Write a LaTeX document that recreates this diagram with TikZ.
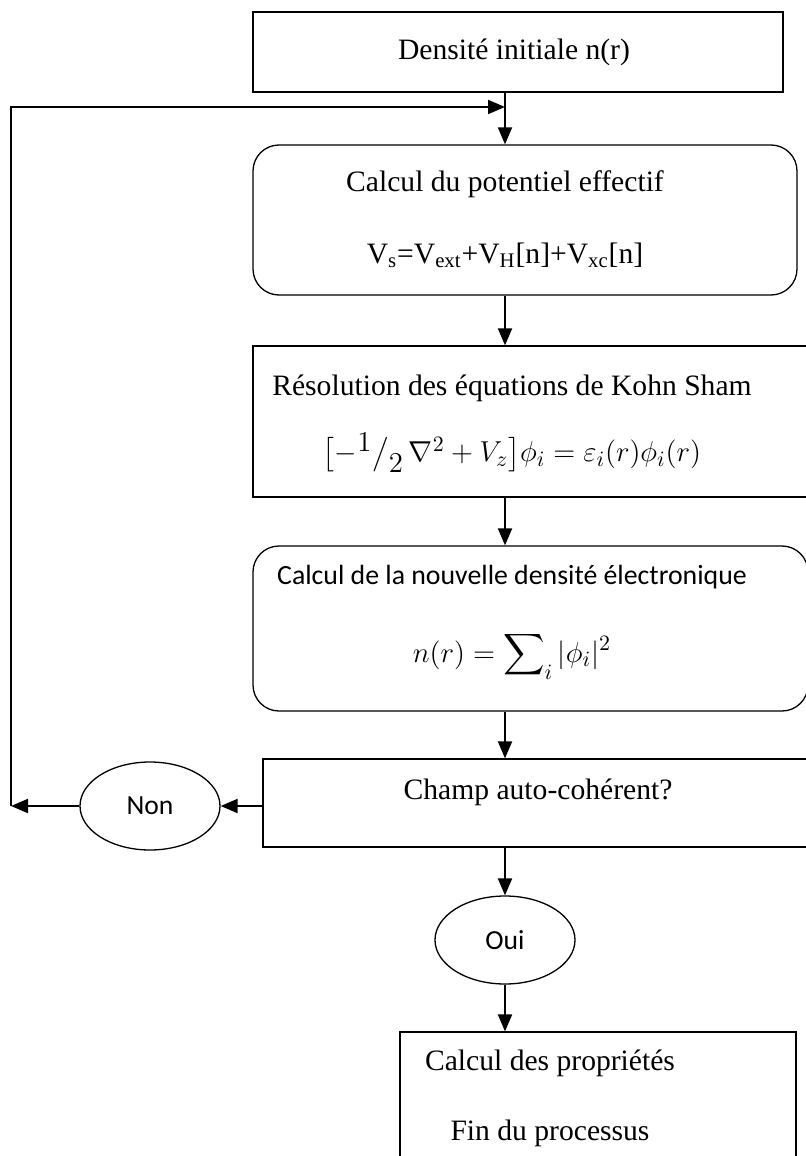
\documentclass[tikz,border=0pt]{standalone}
\usepackage{amsmath}
\usepackage{exscale}
\usepackage{fontspec}
\setmainfont{Liberation Serif}
\newfontfamily\calibri{Carlito}
\usetikzlibrary{arrows.meta,shapes.geometric}

\tikzset{
  boite/.style={draw,line width=0.65pt,inner sep=0pt},
  arrondi/.style={boite,rounded corners=13pt},
  bulle/.style={draw,ellipse,line width=0.65pt,minimum width=70pt,minimum height=44pt,
    font=\calibri\fontsize{13.8}{16}\selectfont},
  texte/.style={align=center,font=\fontsize{14.8}{36}\selectfont},
  fleche/.style={line width=1pt,-{Triangle[length=8.5pt,width=7pt]}},
}

\begin{document}
\begin{tikzpicture}[x=0.5pt,y=-0.5pt]
\useasboundingbox (0,0) rectangle (806,1156);

% les cadres
\node[boite,minimum width=265pt,minimum height=40pt] (densite) at (518,52) {};
\node[arrondi,minimum width=272pt,minimum height=75pt] (potentiel) at (525,220) {};
\node[boite,minimum width=279.5pt,minimum height=75.5pt] (kohn) at (532.5,421.5) {};
\node[arrondi,minimum width=277.5pt,minimum height=82.5pt] (densnouv) at (530.5,628.5) {};
\node[boite,minimum width=274.5pt,minimum height=44pt] (champ) at (537.5,803) {};
\node[boite,minimum width=198pt,minimum height=64pt] (proprietes) at (598,1096) {};
\node[bulle] (non) at (150,806) {Non};
\node[bulle] (oui) at (505,940) {Oui};

% les textes
\node[texte] (tdensite) at (514,52) {Densité initiale n(r)};
\node[texte] (tpotentiel) at (505,219) {Calcul du potentiel effectif\\
  V\textsubscript{s}=V\textsubscript{ext}+V\textsubscript{H}[n]+V\textsubscript{xc}[n]};
\node[texte,font=\fontsize{14.8}{33}\selectfont] (tkohn) at (512,424)
  {Résolution des équations de Kohn Sham\\
  \fontsize{15.5}{33}\selectfont
  $\bigl[-{}^{\textstyle 1}\big/_{\textstyle 2}\,\nabla^{2}+V_{z}\bigr]\phi_i=\varepsilon_i(r)\phi_i(r)$};
\node[texte,font=\calibri\fontsize{13.9}{39}\selectfont] (tdensnouv) at (512,622)
  {Calcul de la nouvelle densité électronique\\
  \fontsize{15.5}{39}\selectfont
  $n(r)=\displaystyle\sum\nolimits_{i}|\phi_i|^{2}$};
\node[texte] (tchamp) at (538,792) {Champ auto-cohérent?};
\node[texte,font=\fontsize{14.8}{35}\selectfont] (tproprietes) at (550,1098)
  {Calcul des propriétés\\Fin du processus};

% les fleches
\coordinate (axe) at (505,0);
\coordinate (retour) at (11,806);
\coordinate (coin) at (11,107);
\draw[fleche] (densite.south -| axe) -- (potentiel.north -| axe);
\draw[fleche] (potentiel.south -| axe) -- (kohn.north -| axe);
\draw[fleche] (kohn.south -| axe) -- (densnouv.north -| axe);
\draw[fleche] (densnouv.south -| axe) -- (champ.north -| axe);
\draw[fleche] (champ.south -| axe) -- (oui.north);
\draw[fleche] (oui.south) -- (proprietes.north -| axe);
\draw[fleche] (champ.west |- non) -- (non.east);
\draw[fleche] (non.west) -- (retour);
\draw[fleche] (retour) -- (coin) -- (coin -| axe);
\end{tikzpicture}
\end{document}
